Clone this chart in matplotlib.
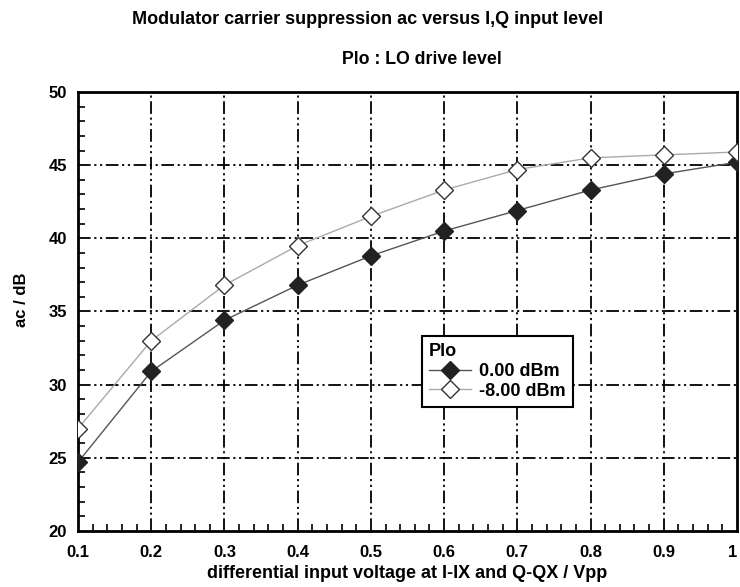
import numpy as np
import matplotlib
matplotlib.use('Agg')
import matplotlib.pyplot as plt
from matplotlib.ticker import MultipleLocator

plt.rcParams['font.family'] = ['Liberation Sans', 'DejaVu Sans']
plt.rcParams['font.weight'] = 'bold'

# data
x_vals = [0.1, 0.2, 0.3, 0.4, 0.5, 0.6, 0.7, 0.8, 0.9, 1.0]
ac_0dbm = [24.7, 30.9, 34.4, 36.8, 38.8, 40.5, 41.9, 43.3, 44.4, 45.2]
ac_m8dbm = [27.0, 33.0, 36.8, 39.5, 41.5, 43.3, 44.7, 45.5, 45.7, 45.9]
x_ticklabels = ['0.1', '0.2', '0.3', '0.4', '0.5', '0.6', '0.7', '0.8', '0.9', '1']
y_ticks = [20, 25, 30, 35, 40, 45, 50]

fig = plt.figure(figsize=(7.4, 5.87), dpi=100)
ax = fig.add_axes([0.1054, 0.0954, 0.8905, 0.7479])

grid_ls = (0, (7, 2, 1.2, 2, 1.2, 2))
for xv in x_vals[1:-1]:
    ax.axvline(xv, color='black', lw=1.3, ls=grid_ls, zorder=1)
for yv in y_ticks[1:-1]:
    ax.axhline(yv, color='black', lw=1.3, ls=grid_ls, zorder=1)

ax.plot(x_vals, ac_0dbm, color='#555555', lw=1.0, marker='D', ms=9,
        mfc='#222222', mec='#222222', label='0.00 dBm', zorder=3)
ax.plot(x_vals, ac_m8dbm, color='#aaaaaa', lw=1.0, marker='D', ms=9,
        mfc='white', mec='#333333', mew=1.0, label='-8.00 dBm', zorder=3)

ax.set_xlim(0.1, 1.0)
ax.set_ylim(20, 50)
ax.set_xticks(x_vals)
ax.set_xticklabels(x_ticklabels)
ax.set_yticks(y_ticks)
ax.xaxis.set_minor_locator(MultipleLocator(0.02))
ax.yaxis.set_minor_locator(MultipleLocator(1))
ax.tick_params(which='both', direction='in', labelsize=12, width=1.2)
ax.tick_params(axis='x', which='major', length=0, pad=10)
ax.tick_params(axis='y', which='major', length=0, pad=8)
ax.tick_params(which='minor', length=5, top=False, right=False)
for lab in ax.get_xticklabels() + ax.get_yticklabels():
    lab.set_fontweight('bold')
# keep the "1" at the right edge inside the picture
ax.get_xticklabels()[-1].set_horizontalalignment('right')
for sp in ax.spines.values():
    sp.set_linewidth(2)

ax.set_xlabel('differential input voltage at I-IX and Q-QX / Vpp', fontsize=13,
              fontweight='bold', labelpad=4)
ax.set_ylabel('ac / dB', fontsize=12, fontweight='bold')
ax.yaxis.set_label_coords(-0.075, 0.526)

fig.text(0.497, 0.966, 'Modulator carrier suppression ac versus I,Q input level',
         ha='center', va='center', fontsize=13, fontweight='bold')
fig.text(0.570, 0.898, 'Plo : LO drive level', ha='center', va='center',
         fontsize=12.8, fontweight='bold')

leg = ax.legend(title='Plo', loc='upper left', bbox_to_anchor=(0.522, 0.444),
                borderaxespad=0, fontsize=13, title_fontsize=13, frameon=True,
                fancybox=False, edgecolor='black', framealpha=1,
                handlelength=2.3, borderpad=0.4, labelspacing=0.15,
                handletextpad=0.45)
leg._legend_box.align = 'left'
leg.get_frame().set_linewidth(1.5)
leg.get_title().set_fontweight('bold')
for t in leg.get_texts():
    t.set_fontweight('bold')

fig.savefig('out.png', dpi=100)
